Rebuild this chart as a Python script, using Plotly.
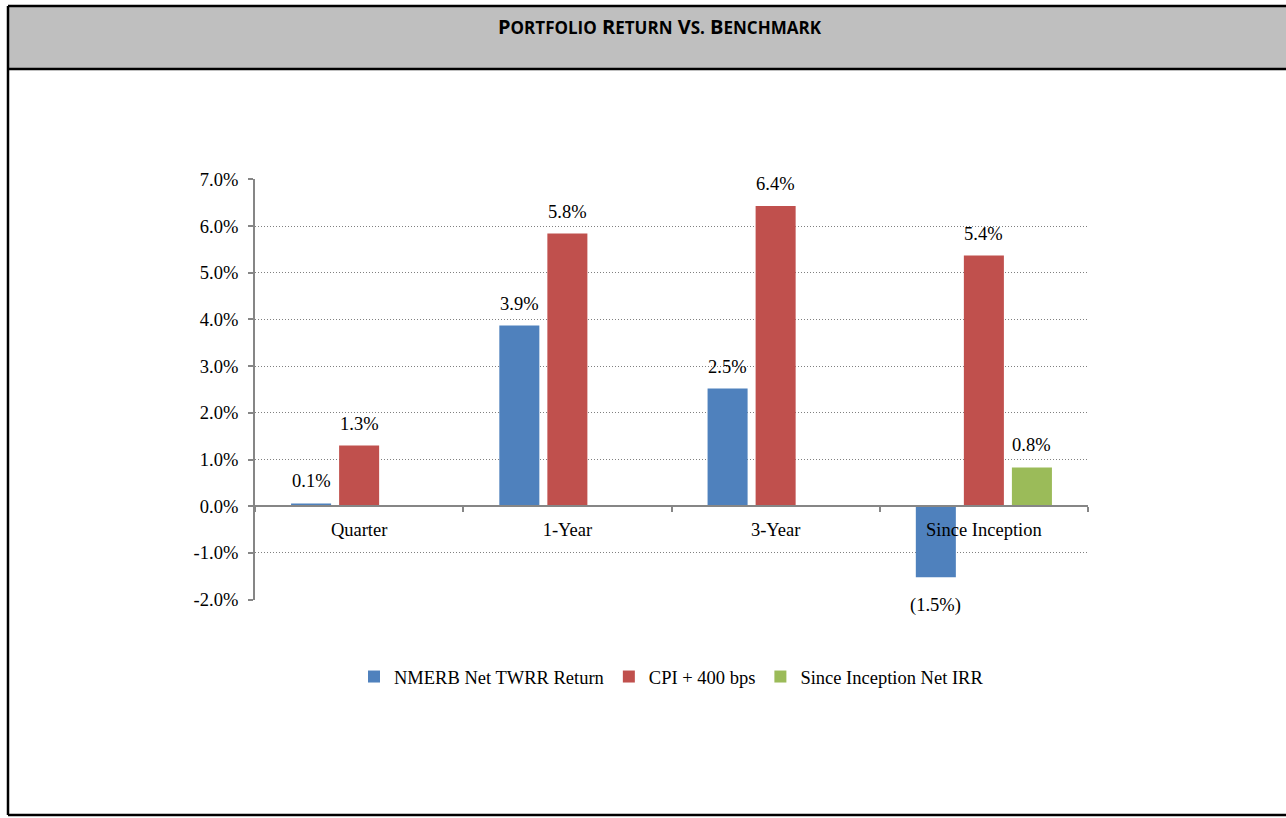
import plotly.graph_objects as go

categories = ["Quarter", "1-Year", "3-Year", "Since Inception"]
series_names = ["NMERB Net TWRR Return", "CPI + 400 bps", "Since Inception Net IRR"]
twrr = [0.06, 3.87, 2.52, -1.52]
cpi = [1.30, 5.84, 6.43, 5.37]
irr = [None, None, None, 0.83]
y_ticks = [-2, -1, 0, 1, 2, 3, 4, 5, 6, 7]
colors = ["#4F81BD", "#C0504D", "#9BBB59"]

W, H = 1286, 818
# plot area in page pixels
L, R, T, B = 255, 1088, 179, 600
YMIN, YMAX = -2.01, 7.01


def px(x):
    return (x - L) / (R - L)


def py(y):
    return (B - y) / (B - T)


def fmt(v):
    return f"({abs(v):.1f}%)" if v < 0 else f"{v:.1f}%"


fig = go.Figure()
all_series = [twrr, cpi, irr]
for name, vals, c in zip(series_names, all_series, colors):
    fig.add_trace(go.Bar(
        x=categories, y=vals, name=name,
        marker=dict(color=c, line=dict(width=0)),
    ))

serif = "Liberation Serif, Times New Roman, serif"
FS = 18.5
annotations = []
offsets = [-48, 0, 48]
for vals, off in zip(all_series, offsets):
    for cat, v in zip(categories, vals):
        if v is None:
            continue
        if v >= 0:
            annotations.append(dict(x=cat, y=v, xref="x", yref="y", text=fmt(v),
                                    showarrow=False, xshift=off, yshift=10,
                                    yanchor="bottom", font=dict(family=serif, size=FS, color="black")))
        else:
            annotations.append(dict(x=cat, y=v, xref="x", yref="y", text=fmt(v),
                                    showarrow=False, xshift=off, yshift=-16,
                                    yanchor="top", font=dict(family=serif, size=FS, color="black")))

sc = "font-size:17px"
title = (f"P<span style='{sc}'>ORTFOLIO</span> R<span style='{sc}'>ETURN</span> "
         f"V<span style='{sc}'>S.</span> B<span style='{sc}'>ENCHMARK</span>")
annotations.append(dict(x=px(660), y=py(27), xref="paper", yref="paper", text=f"<b>{title}</b>",
                        showarrow=False, xanchor="center", yanchor="middle",
                        font=dict(family="Open Sans, sans-serif", size=20, color="black")))

border = dict(color="black", width=2.5)
shapes = [
    # grey header band
    dict(type="rect", xref="paper", yref="paper", x0=px(8), x1=px(1300), y0=py(69), y1=py(6),
         fillcolor="#BFBFBF", line=dict(width=0), layer="below"),
    # frame lines (left, top, header bottom, bottom)
    dict(type="line", xref="paper", yref="paper", x0=px(8), x1=px(8), y0=py(815), y1=py(6), line=border),
    dict(type="line", xref="paper", yref="paper", x0=px(8), x1=px(1300), y0=py(6), y1=py(6), line=border),
    dict(type="line", xref="paper", yref="paper", x0=px(8), x1=px(1300), y0=py(69), y1=py(69), line=border),
    dict(type="line", xref="paper", yref="paper", x0=px(8), x1=px(1300), y0=py(815), y1=py(815), line=border),
]

fig.update_layout(
    width=W, height=H,
    margin=dict(l=L, r=W - R, t=T, b=H - B, pad=0),
    paper_bgcolor="white", plot_bgcolor="white",
    barmode="group", bargap=0.308, bargroupgap=0.1667,
    showlegend=True,
    legend=dict(orientation="h", x=0.5, xanchor="center", y=py(677), yanchor="middle",
                font=dict(family=serif, size=FS, color="black"), traceorder="normal"),
    annotations=annotations, shapes=shapes,
    font=dict(family=serif, size=FS, color="black"),
)

fig.update_yaxes(range=[YMIN, YMAX], tickvals=y_ticks, ticktext=[f"{v:.1f}%" for v in y_ticks],
                 showgrid=True, gridcolor="#808080", griddash="1px,2px", gridwidth=1,
                 zeroline=False, showline=True, linecolor="#868686", linewidth=2,
                 ticks="outside", ticklen=5, tickcolor="#868686", tickwidth=2,
                 ticklabelstandoff=6, tickfont=dict(family=serif, size=FS, color="black"),
                 fixedrange=True)
fig.update_xaxes(anchor="free", position=(0 - YMIN) / (YMAX - YMIN), showline=True,
                 linecolor="#868686", linewidth=2,
                 ticks="outside", ticklen=5, tickcolor="#868686", tickwidth=2,
                 tickson="boundaries", showgrid=False, ticklabelstandoff=7,
                 tickfont=dict(family=serif, size=FS, color="black"), fixedrange=True)

fig.write_html("out.html", config={"displayModeBar": False},
               post_script="document.body.style.margin='0';document.body.style.overflow='hidden';")
